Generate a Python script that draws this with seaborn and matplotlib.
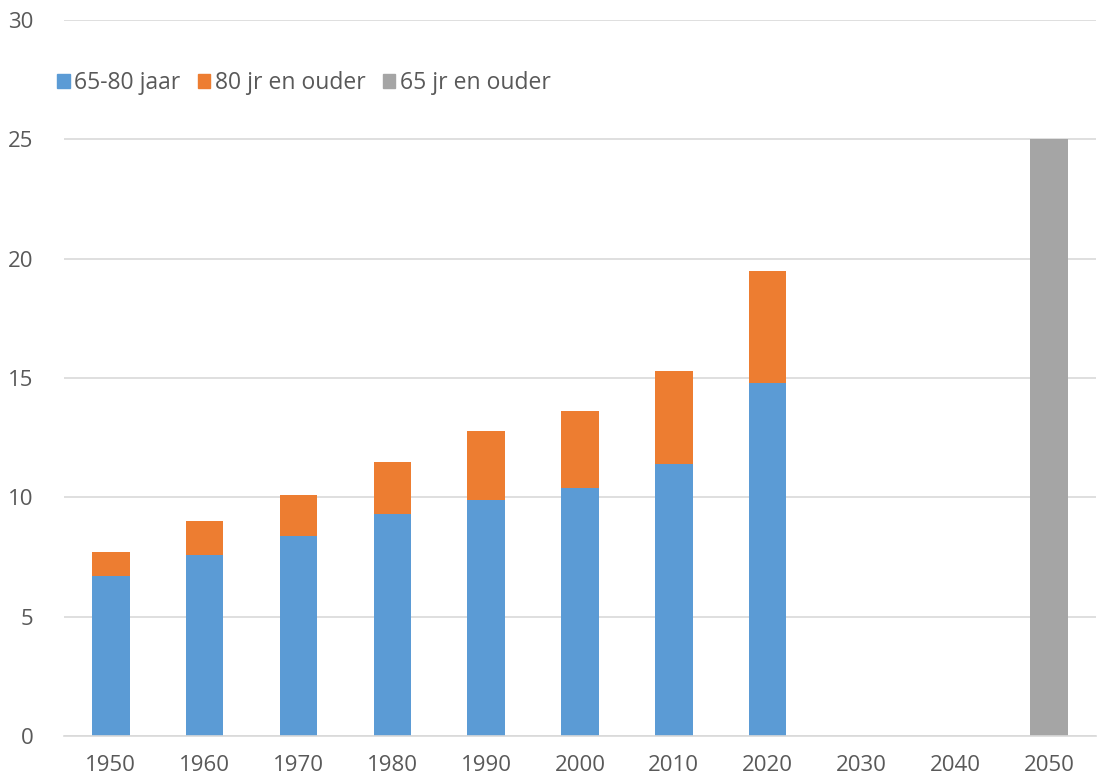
import matplotlib
matplotlib.use("Agg")
import matplotlib.pyplot as plt
import matplotlib.patches as mpatches
import pandas as pd
import seaborn as sns

years = ["1950", "1960", "1970", "1980", "1990", "2000", "2010", "2020", "2030", "2040", "2050"]
age_65_80 = [6.7, 7.6, 8.4, 9.3, 9.9, 10.4, 11.4, 14.8, 0, 0, 0]
age_80_plus = [1.0, 1.4, 1.7, 2.2, 2.9, 3.2, 3.9, 4.7, 0, 0, 0]
age_65_plus = [0, 0, 0, 0, 0, 0, 0, 0, 0, 0, 25]

blue = "#5b9bd5"
orange = "#ed7d31"
grey = "#a5a5a5"
text_col = "#595959"
grid_col = "#d9d9d9"

df = pd.DataFrame({"jaar": years, "a": age_65_80, "b": age_80_plus, "c": age_65_plus})

sns.set_style("white")
plt.rcParams["font.family"] = ["Open Sans", "DejaVu Sans"]

fig = plt.figure(figsize=(11.01, 7.83), dpi=100)
ax = fig.add_axes([0.058, 0.060, 0.9375, 0.9145])

sns.barplot(data=df, x="jaar", y="a", order=years, color=blue, width=0.4,
            saturation=1, linewidth=0, ax=ax)
sns.barplot(data=df, x="jaar", y="b", order=years, color=orange, width=0.4,
            saturation=1, linewidth=0, bottom=df["a"].values, ax=ax)
sns.barplot(data=df, x="jaar", y="c", order=years, color=grey, width=0.4,
            saturation=1, linewidth=0, ax=ax)

ax.set_ylim(0, 30)
ax.set_xlim(-0.5, len(years) - 0.5)
ax.set_yticks([0, 5, 10, 15, 20, 25, 30])
ax.yaxis.grid(True, color=grid_col, linewidth=1.2)
ax.set_axisbelow(True)
for s in ["top", "right", "left"]:
    ax.spines[s].set_visible(False)
ax.spines["bottom"].set_color(grid_col)
ax.spines["bottom"].set_linewidth(1.2)
ax.set_xlabel("")
ax.set_ylabel("")
ax.tick_params(axis="both", length=0, labelsize=16, colors=text_col)
ax.tick_params(axis="y", pad=22)
ax.tick_params(axis="x", pad=14)

handles = [mpatches.Patch(color=blue, label="65-80 jaar"),
           mpatches.Patch(color=orange, label="80 jr en ouder"),
           mpatches.Patch(color=grey, label="65 jr en ouder")]
leg = fig.legend(handles=handles, loc="center left", bbox_to_anchor=(0.033, 0.894),
                 ncol=3, frameon=False, fontsize=16.5, handlelength=0.55, handleheight=0.55,
                 handletextpad=0.2, columnspacing=0.75)
for t in leg.get_texts():
    t.set_color(text_col)

fig.savefig("out.png", dpi=100)
